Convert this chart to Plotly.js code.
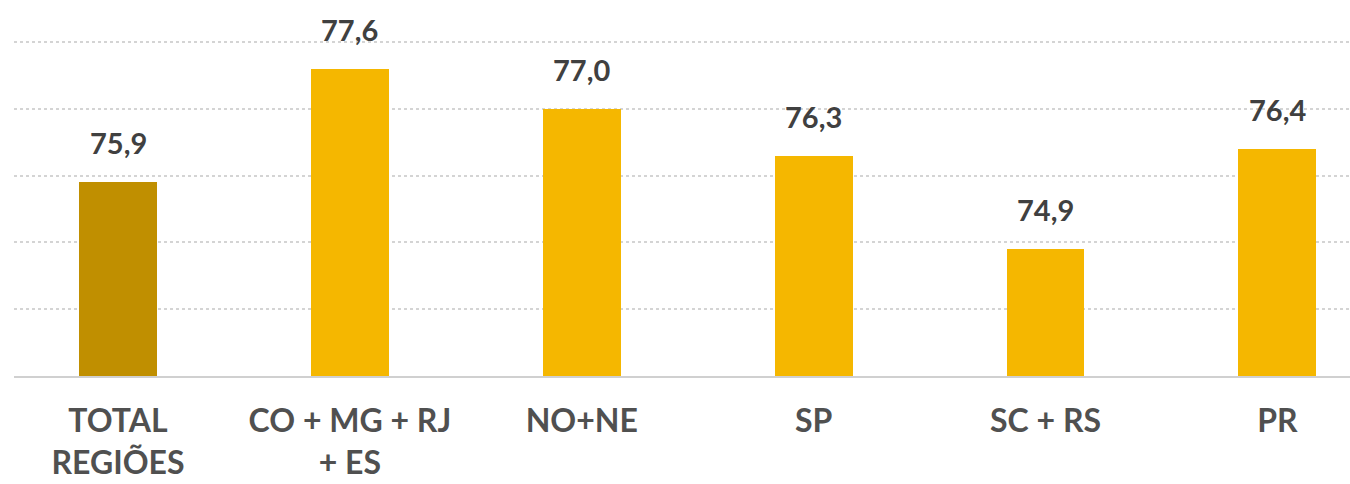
<!DOCTYPE html>
<html>
<head>
<meta charset="utf-8">
<script src="https://cdn.plot.ly/plotly-3.0.1.min.js"></script>
<style>html,body{margin:0;padding:0;background:#fff;}#chart{width:1350px;height:484px;}</style>
</head>
<body>
<div id="chart"></div>
<script>
const categories = ["TOTAL<br>REGIÕES", "CO + MG + RJ<br>+ ES", "NO+NE", "SP", "SC + RS", "PR"];
const values = [75.9, 77.6, 77.0, 76.3, 74.9, 76.4];
const barColors = ["#C08F00", "#F5B700", "#F5B700", "#F5B700", "#F5B700", "#F5B700"];

const trace = {
  type: "bar",
  x: categories,
  y: values,
  marker: {color: barColors},
  width: 0.336,
  hoverinfo: "none"
};

const annotations = categories.map((c, i) => ({
  x: c,
  y: values[i],
  xref: "x",
  yref: "y",
  text: values[i].toFixed(1).replace(".", ","),
  showarrow: false,
  yanchor: "bottom",
  yshift: 20,
  font: {family: "Lato, 'Open Sans', sans-serif", size: 29, color: "#404040", weight: 700}
}));

const layout = {
  width: 1350,
  height: 484,
  margin: {l: 14, r: 0, t: 40, b: 108, pad: 0},
  paper_bgcolor: "#ffffff",
  plot_bgcolor: "#ffffff",
  showlegend: false,
  bargap: 0,
  xaxis: {
    type: "category",
    range: [-0.4485, 5.313],
    showgrid: false,
    zeroline: false,
    showline: true,
    linecolor: "#d0d0d0",
    linewidth: 2,
    ticks: "",
    ticklabelstandoff: 16,
    tickfont: {family: "Lato, 'Open Sans', sans-serif", size: 32, color: "#505050", weight: 700}
  },
  yaxis: {
    range: [73, 78.03],
    dtick: 1,
    tick0: 73,
    showticklabels: false,
    showgrid: true,
    gridcolor: "#d4d4d4",
    gridwidth: 2,
    griddash: "dot",
    zeroline: false,
    showline: false,
    ticks: "",
    fixedrange: true
  },
  annotations: annotations
};

Plotly.newPlot("chart", [trace], layout, {displayModeBar: false, staticPlot: true});
</script>
</body>
</html>
